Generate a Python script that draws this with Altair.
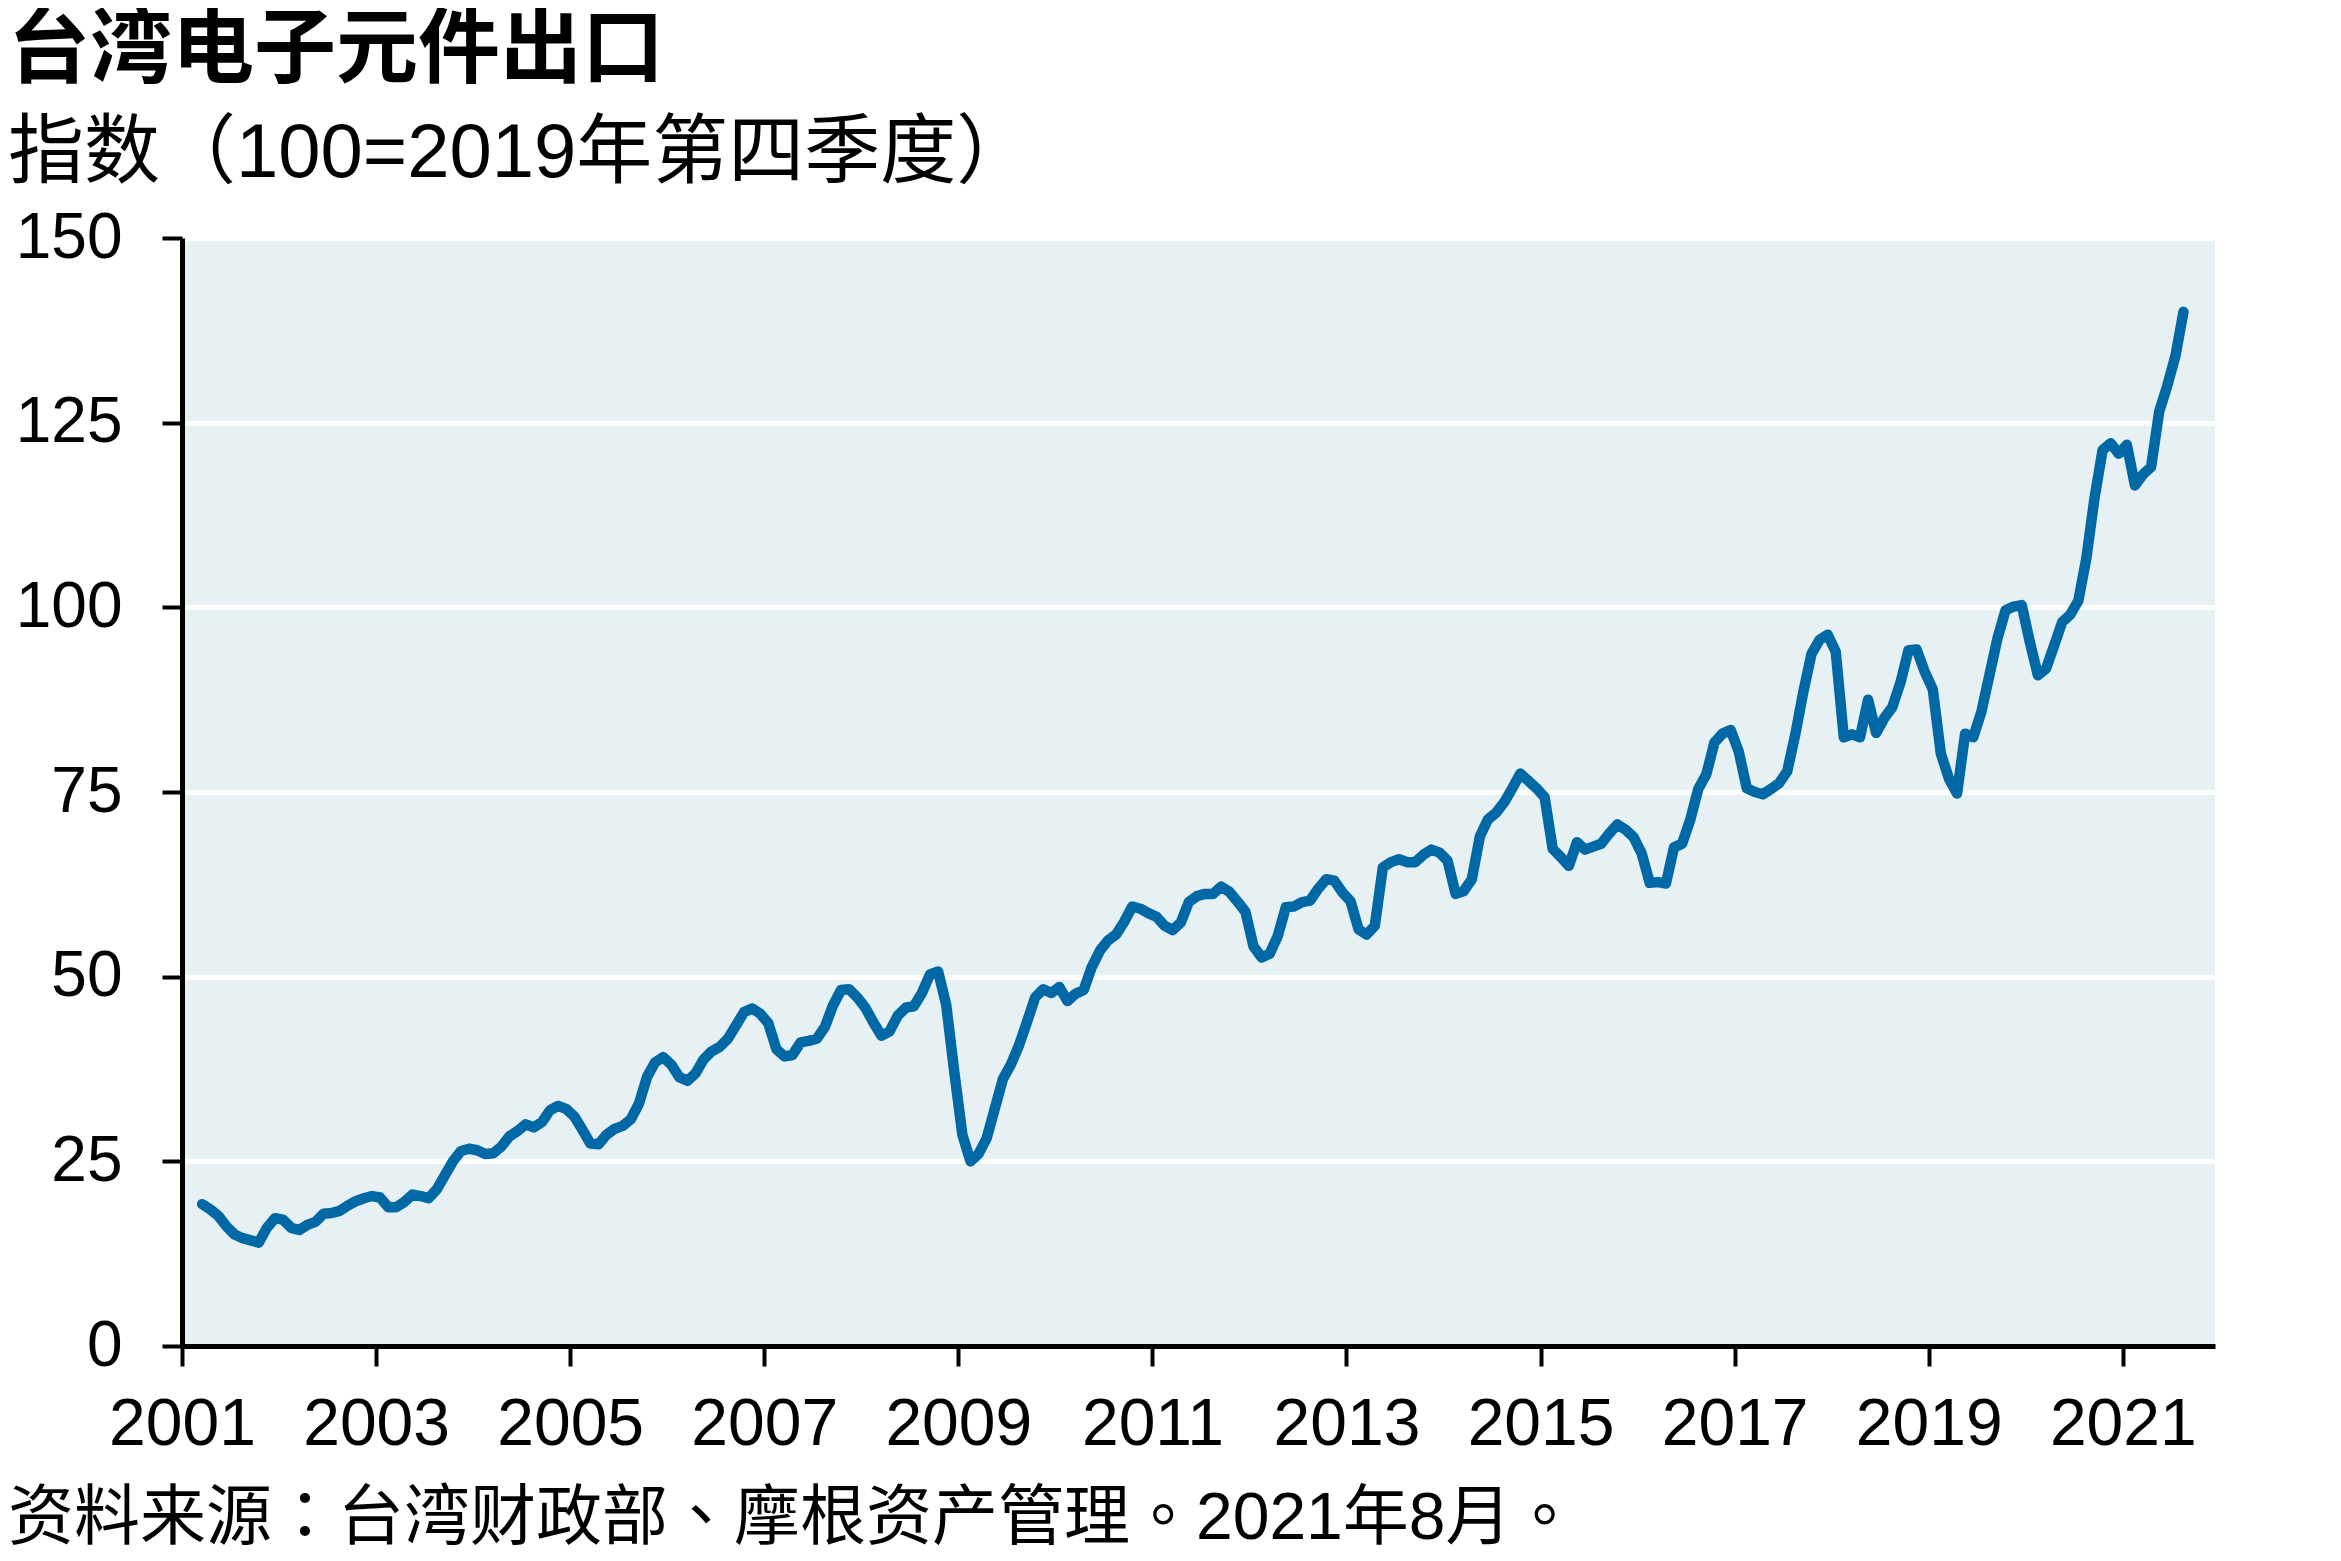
import altair as alt
import pandas as pd

title_text = "台湾电子元件出口"
subtitle_text = "指数（100=2019年第四季度）"
source_text = "资料来源：台湾财政部、摩根资产管理。2021年8月。"

first_month = "2001-03-01"
v2001 = [19.2, 18.5, 17.6, 16.2, 15.1, 14.6, 14.3, 14.0, 16.0, 17.3]
v2002 = [17.1, 16.0, 15.7, 16.4, 16.8, 17.9, 18.0, 18.3, 19.0, 19.6, 20.0, 20.3]
v2003 = [20.1, 18.8, 18.8, 19.5, 20.5, 20.3, 20.0, 21.2, 23.1, 25.0, 26.4, 26.7]
v2004 = [26.5, 26.0, 26.1, 27.0, 28.4, 29.1, 30.0, 29.6, 30.3, 31.9, 32.5, 32.1]
v2005 = [31.1, 29.3, 27.4, 27.3, 28.6, 29.4, 29.8, 30.7, 32.8, 36.4, 38.4, 39.1]
v2006 = [38.1, 36.4, 35.9, 36.9, 38.8, 39.9, 40.5, 41.6, 43.4, 45.2, 45.7, 45.0]
v2007 = [43.7, 40.2, 39.2, 39.4, 41.1, 41.3, 41.6, 43.2, 46.1, 48.2, 48.3, 47.2]
v2008 = [45.8, 43.8, 42.0, 42.6, 44.7, 45.8, 46.0, 47.8, 50.3, 50.7, 46.2, 37.1]
v2009 = [28.6, 25.0, 26.0, 28.1, 32.1, 36.1, 38.1, 40.7, 43.9, 47.2, 48.3, 47.8]
v2010 = [48.6, 46.7, 47.7, 48.2, 51.3, 53.5, 54.9, 55.7, 57.4, 59.5, 59.2, 58.6]
v2011 = [58.1, 56.9, 56.3, 57.3, 60.1, 60.9, 61.2, 61.2, 62.2, 61.5, 60.2, 58.8]
v2012 = [54.1, 52.6, 53.1, 55.5, 59.4, 59.5, 60.1, 60.3, 61.9, 63.2, 63.0, 61.4]
v2013 = [60.2, 56.4, 55.7, 56.9, 64.8, 65.5, 65.9, 65.5, 65.5, 66.5, 67.2, 66.8]
v2014 = [65.7, 61.2, 61.6, 63.2, 69.0, 71.3, 72.2, 73.6, 75.5, 77.5, 76.5, 75.5]
v2015 = [74.3, 67.3, 66.2, 65.0, 68.2, 67.2, 67.6, 68.0, 69.4, 70.6, 69.9, 68.9]
v2016 = [66.7, 62.7, 62.8, 62.6, 67.5, 68.0, 71.2, 75.4, 77.4, 81.7, 82.9, 83.4]
v2017 = [80.5, 75.5, 75.0, 74.7, 75.4, 76.2, 77.8, 82.8, 88.6, 93.7, 95.6, 96.3]
v2018 = [94.0, 82.4, 82.8, 82.4, 87.5, 83.0, 85.0, 86.5, 89.8, 94.2, 94.3, 91.3]
v2019 = [88.9, 80.2, 76.8, 74.8, 82.9, 82.4, 85.8, 90.8, 95.8, 99.6, 100.1, 100.3]
v2020 = [95.3, 90.8, 91.7, 94.8, 98.0, 99.0, 100.9, 106.7, 114.8, 121.3, 122.2, 120.8]
v2021 = [122.0, 116.5, 118.0, 119.0, 126.5, 130.0, 134.0, 140.0]

values = (v2001 + v2002 + v2003 + v2004 + v2005 + v2006 + v2007 + v2008 + v2009
          + v2010 + v2011 + v2012 + v2013 + v2014 + v2015 + v2016 + v2017
          + v2018 + v2019 + v2020 + v2021)

x_tick_years = list(range(2001, 2022, 2))
y_ticks = [0, 25, 50, 75, 100, 125, 150]

months = pd.date_range(first_month, periods=len(values), freq="MS")
df = pd.DataFrame({
    "t": months.year + (months.month - 0.5) / 12.0,
    "v": values,
})

W, H = 2033, 1108
LATIN = "Liberation Sans, Arial, Noto Sans CJK SC, sans-serif"
CJK = "Liberation Sans, Noto Sans CJK SC, sans-serif"
CJK_NOTE = "Liberation Sans, Noto Sans CJK TC, sans-serif"

line = alt.Chart(df).mark_line(
    color="#0068A5", strokeWidth=10.5, strokeCap="round", strokeJoin="round"
).encode(
    x=alt.X("t:Q", title=None,
            scale=alt.Scale(domain=[2001, 2021.95], nice=False, zero=False),
            axis=alt.Axis(values=x_tick_years, format="d", grid=False,
                          domainColor="black", domainWidth=5,
                          tickColor="black", tickWidth=4, tickSize=20,
                          labelFont=LATIN, labelFontSize=66, labelColor="black",
                          labelPadding=26, labelFlush=False, labelOverlap=False)),
    y=alt.Y("v:Q", title=None,
            scale=alt.Scale(domain=[0, 150], nice=False),
            axis=alt.Axis(values=y_ticks, grid=True, gridColor="white", gridWidth=5,
                          domainColor="black", domainWidth=5,
                          tickColor="black", tickWidth=4, tickSize=20,
                          labelFont=LATIN, labelFontSize=64, labelColor="black",
                          labelPadding=40)),
)

note = alt.Chart(pd.DataFrame({"s": [source_text]})).mark_text(
    align="left", baseline="alphabetic", font=CJK_NOTE, fontSize=66, color="black"
).encode(
    text="s:N",
    x=alt.value(-174),
    y=alt.value(1301),
)

chart = alt.layer(line, note).properties(
    width=W, height=H,
    padding={"left": 0, "top": 2, "right": 10, "bottom": 5},
    title=alt.TitleParams(
        text=title_text, subtitle=subtitle_text,
        anchor="start", frame="bounds",
        font=CJK, fontSize=82, fontWeight="bold", color="black",
        subtitleFont=CJK, subtitleFontSize=76, subtitleColor="black",
        subtitleFontWeight="normal", subtitlePadding=24, offset=13,
    ),
).configure_view(fill="#E7F0F3", strokeWidth=0)

chart.save("out.html", embed_options={"renderer": "svg", "actions": False})
